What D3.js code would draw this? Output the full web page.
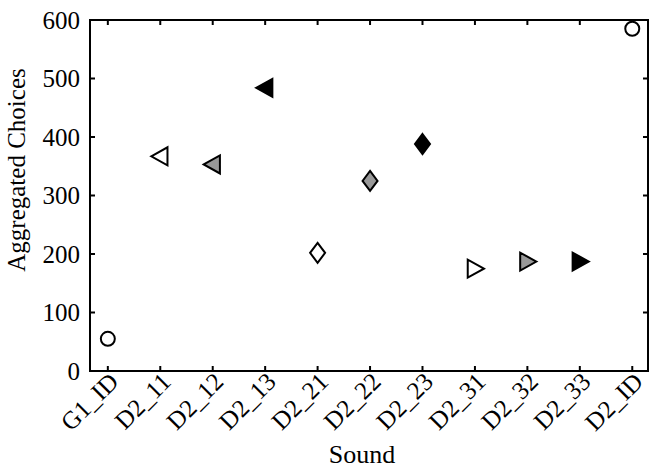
<!DOCTYPE html>
<html>
<head>
<meta charset="utf-8">
<script src="https://cdn.jsdelivr.net/npm/d3@7"></script>
<style>
body { margin: 0; background: #fff; }
svg text { font-family: "Liberation Serif", "Times New Roman", serif; fill: #000; }
</style>
</head>
<body>
<div id="chart"></div>
<script>
const sounds = ['G1_ID', 'D2_11', 'D2_12', 'D2_13', 'D2_21', 'D2_22', 'D2_23', 'D2_31', 'D2_32', 'D2_33', 'D2_ID'];
const choices = [55, 367, 353, 484, 202, 325, 388, 175, 187, 187, 585];
const shapes = ['circle', 'left', 'left', 'left', 'diamond', 'diamond', 'diamond', 'right', 'right', 'right', 'circle'];
const fills = ['#fff', '#fff', '#999', '#000', '#fff', '#999', '#000', '#fff', '#999', '#000', '#fff'];
const yTicks = [0, 100, 200, 300, 400, 500, 600];

const margin = { top: 20, right: 2, bottom: 97, left: 90 };
const width = 650 - margin.left - margin.right;
const height = 468 - margin.top - margin.bottom;

const svg = d3.select('#chart')
    .append('svg')
    .attr('width', 650)
    .attr('height', 468)
    .append('g')
    .attr('transform', `translate(${margin.left},${margin.top})`);

const x = d3.scaleLinear().domain([-0.34, 10.3]).range([0, width]);
const y = d3.scaleLinear().domain([0, 600]).range([height, 0]);

// box
svg.append('rect')
    .attr('width', width).attr('height', height)
    .attr('fill', 'none').attr('stroke', '#000').attr('stroke-width', 2);

const tl = 5;
const idx = d3.range(sounds.length);

// ticks on all four sides, pointing inward
svg.append('g').selectAll('line').data(idx).join('line')
    .attr('x1', i => x(i)).attr('x2', i => x(i))
    .attr('y1', height).attr('y2', height - tl)
    .attr('stroke', '#000').attr('stroke-width', 2);
svg.append('g').selectAll('line').data(idx).join('line')
    .attr('x1', i => x(i)).attr('x2', i => x(i))
    .attr('y1', 0).attr('y2', tl)
    .attr('stroke', '#000').attr('stroke-width', 2);
svg.append('g').selectAll('line').data(yTicks).join('line')
    .attr('x1', 0).attr('x2', tl)
    .attr('y1', d => y(d)).attr('y2', d => y(d))
    .attr('stroke', '#000').attr('stroke-width', 2);
svg.append('g').selectAll('line').data(yTicks).join('line')
    .attr('x1', width).attr('x2', width - tl)
    .attr('y1', d => y(d)).attr('y2', d => y(d))
    .attr('stroke', '#000').attr('stroke-width', 2);

// y tick labels
svg.append('g').selectAll('text').data(yTicks).join('text')
    .attr('x', -10).attr('y', d => y(d))
    .attr('dy', '0.35em')
    .attr('text-anchor', 'end')
    .style('font-size', '25px')
    .text(d => d);

// x tick labels, rotated
svg.append('g').selectAll('text').data(idx).join('text')
    .attr('transform', i => `translate(${x(i) + 6},${height + 6}) rotate(-45)`)
    .attr('text-anchor', 'end')
    .attr('dy', '0.35em')
    .style('font-size', '25px')
    .text(i => sounds[i]);

svg.append('text')
    .attr('x', width / 2 - 7)
    .attr('y', height + 92)
    .attr('text-anchor', 'middle')
    .style('font-size', '26px')
    .text('Sound');

svg.append('text')
    .attr('transform', 'rotate(-90)')
    .attr('x', -150)
    .attr('y', -65)
    .attr('text-anchor', 'middle')
    .style('font-size', '25px')
    .text('Aggregated Choices');

// markers
function markerPath(shape) {
    const s = 9;
    if (shape === 'left') return `M${-s},0L${s * 0.8},${-s}L${s * 0.8},${s}Z`;
    if (shape === 'right') return `M${s},0L${-s * 0.8},${-s}L${-s * 0.8},${s}Z`;
    if (shape === 'diamond') return `M0,-10L7.5,0L0,10L-7.5,0Z`;
    return d3.arc()({ innerRadius: 0, outerRadius: 7, startAngle: 0, endAngle: 2 * Math.PI });
}

svg.append('g').selectAll('path').data(idx).join('path')
    .attr('transform', i => `translate(${x(i)},${y(choices[i])})`)
    .attr('d', i => markerPath(shapes[i]))
    .attr('fill', i => fills[i])
    .attr('stroke', '#000')
    .attr('stroke-width', 2)
    .attr('stroke-linejoin', 'miter');
</script>
</body>
</html>
